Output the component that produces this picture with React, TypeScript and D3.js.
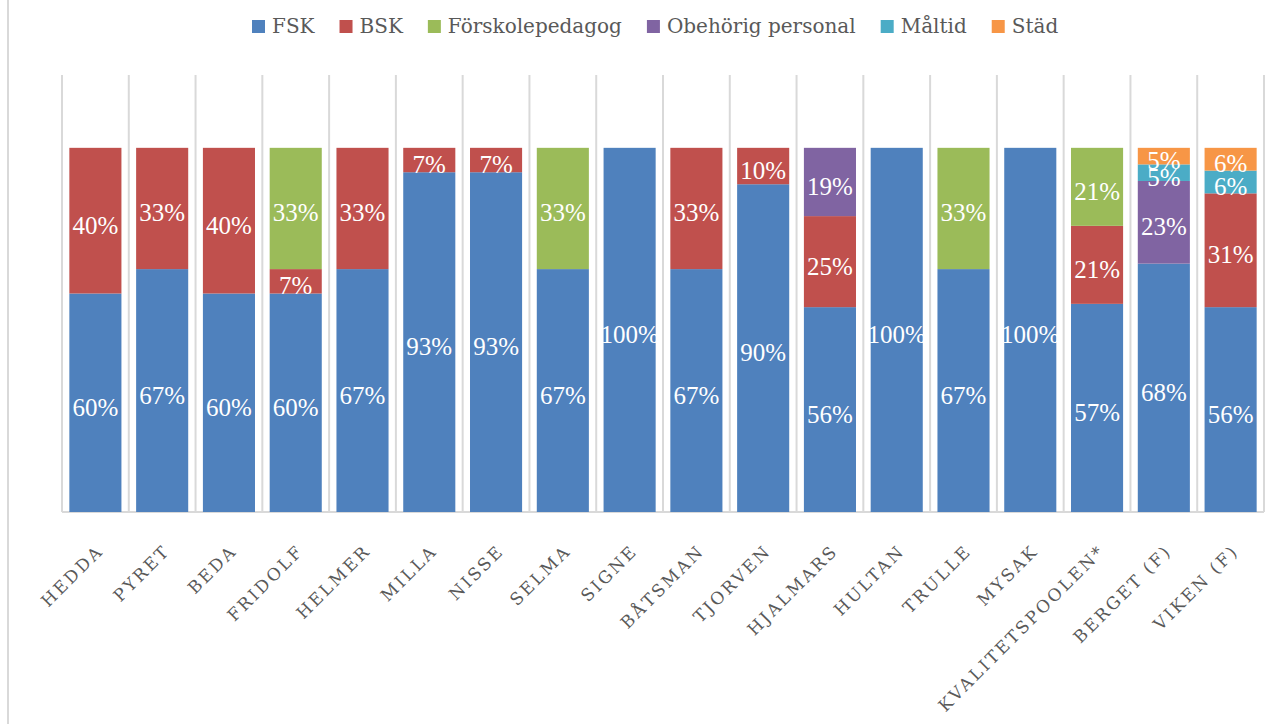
import React, { useMemo } from "react";
import * as d3 from "d3";

const categories = ["HEDDA", "PYRET", "BEDA", "FRIDOLF", "HELMER", "MILLA", "NISSE", "SELMA", "SIGNE", "BÅTSMAN", "TJORVEN", "HJALMARS", "HULTAN", "TRULLE", "MYSAK", "KVALITETSPOOLEN*", "BERGET (F)", "VIKEN (F)"];

const seriesNames = ["FSK", "BSK", "Förskolepedagog", "Obehörig personal", "Måltid", "Städ"];
const seriesColors = ["#4F81BD", "#C0504D", "#9BBB59", "#8064A2", "#4BACC6", "#F79646"];

const fsk = [60, 66.7, 60, 60, 66.7, 93.3, 93.3, 66.7, 100, 66.7, 90, 56.25, 100, 66.7, 100, 57.1, 68.2, 56.25];
const bsk = [40, 33.3, 40, 6.7, 33.3, 6.7, 6.7, 0, 0, 33.3, 10, 25, 0, 0, 0, 21.4, 0, 31.25];
const forskolepedagog = [0, 0, 0, 33.3, 0, 0, 0, 33.3, 0, 0, 0, 0, 0, 33.3, 0, 21.4, 0, 0];
const obehorig = [0, 0, 0, 0, 0, 0, 0, 0, 0, 0, 0, 18.75, 0, 0, 0, 0, 22.7, 0];
const maltid = [0, 0, 0, 0, 0, 0, 0, 0, 0, 0, 0, 0, 0, 0, 0, 0, 4.55, 6.25];
const stad = [0, 0, 0, 0, 0, 0, 0, 0, 0, 0, 0, 0, 0, 0, 0, 0, 4.55, 6.25];

const seriesValues = [fsk, bsk, forskolepedagog, obehorig, maltid, stad];

const W = 1284;
const H = 724;
const plotLeft = 62;
const plotRight = 1264;
const plotTop = 75;
const plotBottom = 512;

const legendFont = "20px 'DejaVu Serif'";
const gridColor = "#D9D9D9";
const textColor = "#595959";

export default function App() {
  const x = d3.scaleBand<string>().domain(categories).range([plotLeft, plotRight]).paddingInner(0.22).paddingOuter(0.11);
  const y = d3.scaleLinear().domain([0, 1.2]).range([plotBottom, plotTop]);
  const step = x.step();

  const rows = categories.map((c, i) => {
    const r: any = { cat: c };
    seriesNames.forEach((s, k) => (r[s] = seriesValues[k][i]));
    return r;
  });
  const stack = d3.stack<any>().keys(seriesNames).offset(d3.stackOffsetExpand);
  const stacked = stack(rows);

  const legendItems = useMemo(() => {
    const canvas = document.createElement("canvas");
    const ctx = canvas.getContext("2d")!;
    ctx.font = legendFont;
    let cx = 252;
    return seriesNames.map((s, k) => {
      const w = ctx.measureText(s).width;
      const item = { name: s, color: seriesColors[k], x: cx };
      cx += 13 + 7 + w + 25;
      return item;
    });
  }, []);

  const gridXs = d3.range(categories.length + 1).map((i) => plotLeft + i * step);

  return (
    <svg width={W} height={H} style={{ position: "absolute", left: 0, top: 0, background: "#fff" }}>
      <rect x={0} y={0} width={W} height={H} fill="#fff" />
      <line x1={8} x2={8} y1={0} y2={H} stroke={gridColor} strokeWidth={2} />
      {gridXs.map((gx, i) => (
        <line key={i} x1={gx} x2={gx} y1={plotTop} y2={plotBottom} stroke={gridColor} strokeWidth={2} />
      ))}
      <line x1={plotLeft} x2={plotRight} y1={plotBottom} y2={plotBottom} stroke={gridColor} strokeWidth={2} />
      {stacked.map((layer, k) => (
        <g key={layer.key} fill={seriesColors[k]}>
          {layer.map((d, i) => {
            const v = seriesValues[k][i];
            if (!v) return null;
            return (
              <rect key={i} x={x(categories[i])} width={x.bandwidth()} y={y(d[1])} height={y(d[0]) - y(d[1])} />
            );
          })}
        </g>
      ))}
      {stacked.map((layer, k) => (
        <g key={"l" + layer.key} fill="#fff" fontFamily="'Liberation Serif'" fontSize={25} textAnchor="middle">
          {layer.map((d, i) => {
            const v = seriesValues[k][i];
            if (!v) return null;
            const cy = (y(d[0]) + y(d[1])) / 2;
            return (
              <text key={i} x={(x(categories[i]) as number) + x.bandwidth() / 2} y={cy + 13}>
                {Math.round(v) + "%"}
              </text>
            );
          })}
        </g>
      ))}
      <g fill={textColor} fontFamily="'DejaVu Serif'" fontSize={17} letterSpacing={2.5}>
        {categories.map((c) => {
          const cx = (x(c) as number) + x.bandwidth() / 2 + 7 + 2;
          const cy = 550 + 2;
          return (
            <text key={c} transform={`translate(${cx},${cy}) rotate(-45)`} textAnchor="end">
              {c}
            </text>
          );
        })}
      </g>
      <g fontFamily="'DejaVu Serif'" fontSize={20} fill={textColor}>
        {legendItems.map((it) => (
          <g key={it.name}>
            <rect x={it.x} y={20} width={13} height={13} fill={it.color} />
            <text x={it.x + 20} y={33}>
              {it.name}
            </text>
          </g>
        ))}
      </g>
    </svg>
  );
}
